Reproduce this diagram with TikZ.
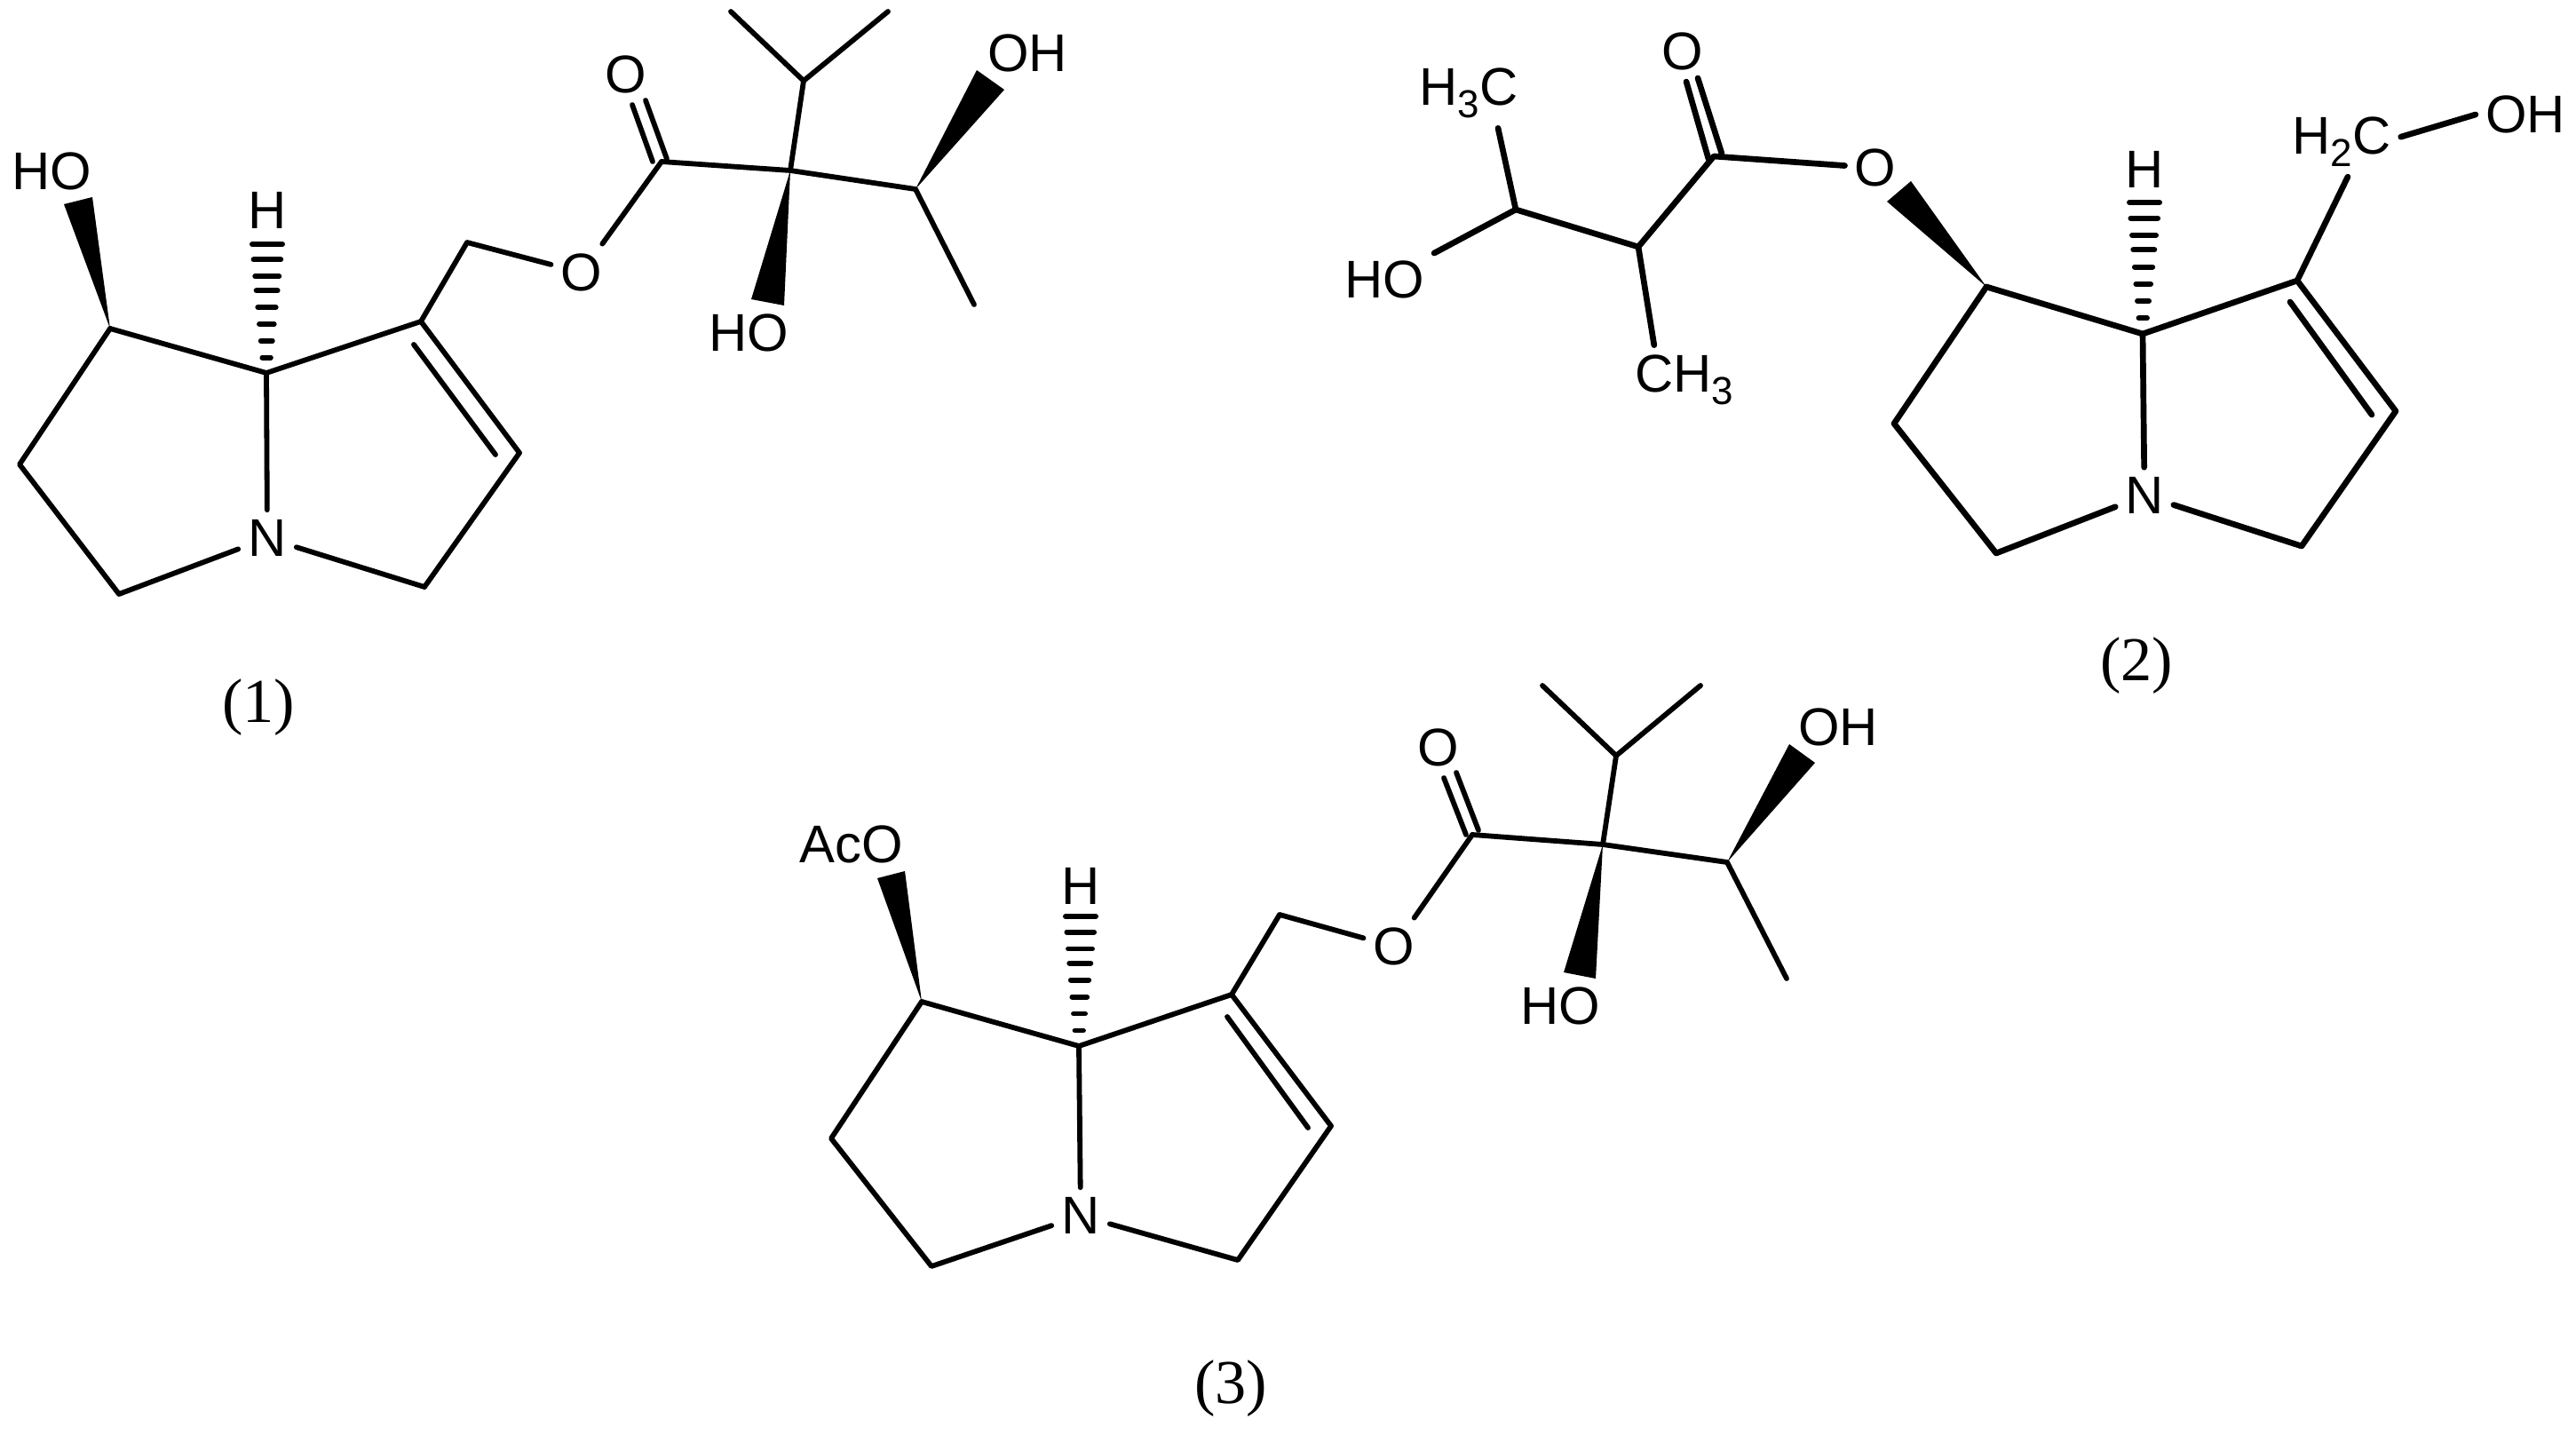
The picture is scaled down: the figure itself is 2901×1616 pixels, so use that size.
\documentclass[tikz,border=0pt]{standalone}
\usepackage{fontspec}
\setmainfont{Liberation Sans}
\newfontfamily\capfont{Liberation Serif}
\usetikzlibrary{calc}

\tikzset{
  bond/.style={line width=1.65pt, line join=round, line cap=round},
  atom/.style={inner sep=3pt, font=\fontsize{17}{19}\selectfont},
  capt/.style={inner sep=0pt, font=\capfont\fontsize{20}{22}\selectfont},
  hashstripe/.style={line width=1.7pt, line cap=round}
}

\newcommand{\chemsub}[1]{\raisebox{-4pt}{\fontsize{12.5}{14}\selectfont #1}}

% the two five-membered rings and hashed H
\newcommand{\ringbonds}{
  \draw[bond] (c7) -- (c6) -- (c5) -- (n);
  \draw[bond] (n) -- (c3) -- (c2) -- (c1) -- (c7a) -- (c7);
  \draw[bond] (c7a) -- (n);
  \draw[bond] (c1i) -- (c2i);
  \foreach \t [evaluate=\t as \hw using 3+14*\t] in {0.12,0.25,0.38,0.51,0.64,0.75,0.88,1}
    \draw[hashstripe] ($(c7a)!\t!(htop)$) +(-\hw,0) -- +(\hw,0);
}

% side chain of (1) and (3)
\newcommand{\esterchain}{
  \draw[bond] (c1) -- (ch2) -- (oe);
  \draw[bond] (oe) -- (cco);
  \draw[bond] (cco) -- (cq) -- (choh) -- (me);
  \draw[bond] (me1) -- (cip) -- (me2);
  \draw[bond] (cip) -- (cq);
  \draw[bond] (ca1) -- (ca2);
  \draw[bond] (cb1) -- (cb2);
  \fill (cq) -- (wq1) -- (wq2) -- cycle;
  \fill (choh) -- (wc1) -- (wc2) -- cycle;
}

\begin{document}
\begin{tikzpicture}[x=0.01cm,y=-0.01cm]
  \useasboundingbox (0,0) rectangle (2901,1616);

  % (1)
  \begin{scope}[name prefix=a-]
    \foreach \n/\p in {c7/{124,370},c7a/{300,420},c1/{474,362},c2/{585,510},c3/{478,661},
      c5/{134,669},c6/{22,523},c1i/{466,388},c2i/{558,512},htop/{301,275},
      ch2/{526,273},cco/{745,182},cq/{890,192},cip/{905,91},me1/{823,13},me2/{1000,13},
      choh/{1031,213},me/{1097,343},ca1/{727,113},ca2/{751,179},cb1/{712,118},cb2/{735,182},
      wq1/{846,337},wq2/{883,344},wc1/{1100,79},wc2/{1131,101},wo1/{72,230},wo2/{104,222}}
      \coordinate (\n) at (\p);
    \node[atom] (n) at (301,606) {N};
    \node[atom] (oe) at (655,307) {O};
    \node[atom] (ok) at (705,84) {O};
    \node[atom] (hq) at (843,375) {HO};
    \node[atom] (hc) at (1157,60) {OH};
    \node[atom] (ho) at (58,193) {HO};
    \node[atom] (h) at (301,237) {H};
    \node[capt] (lbl) at (291,797) {(1)};
    \ringbonds
    \esterchain
    \fill (c7) -- (wo1) -- (wo2) -- cycle;
  \end{scope}

  % (2)
  \begin{scope}[name prefix=b-, bond/.append style={line width=1.9pt}]
    \foreach \n/\p in {c7/{2237,323},c7a/{2413,376},c1/{2587,316},c2/{2698,463},c3/{2592,615},
      c5/{2248,623},c6/{2133,477},c1i/{2579,340},c2i/{2671,467},htop/{2415,228},
      cco/{1930,176},ch/{1845,278},choh/{1707,236},ca1/{1912,88},ca2/{1939,173},
      cb1/{1899,92},cb2/{1924,179},wo1/{2152,204},wo2/{2125,227}}
      \coordinate (\n) at (\p);
    \node[atom] (n) at (2415,558) {N};
    \node[atom] (oe) at (2112,189) {O};
    \node[atom] (ok) at (1895,58) {O};
    \node[atom] (h) at (2415,191) {H};
    \node[atom] (ch2) at (2637,160) {H\chemsub{2}C};
    \node[atom] (oh) at (2844,129) {OH};
    \node[atom] (me1) at (1654,105) {H\chemsub{3}C};
    \node[atom] (me2) at (1897,428) {CH\chemsub{3}};
    \node[atom] (ho) at (1559,315) {HO};
    \node[capt] (lbl) at (2406,750) {(2)};
    \ringbonds
    \draw[bond] (c1) -- (ch2.-80);
    \draw[bond] (ch2.5) -- (oh.west);
    \draw[bond] (oe) -- (cco) -- (ch) -- (choh) -- (me1.-50);
    \draw[bond] (ch) -- (me2.131);
    \draw[bond] (choh) -- (ho);
    \draw[bond] (ca1) -- (ca2);
    \draw[bond] (cb1) -- (cb2);
    \fill (c7) -- (wo1) -- (wo2) -- cycle;
  \end{scope}

  % (3)
  \begin{scope}[name prefix=c-]
    \foreach \n/\p in {c7/{1038,1128},c7a/{1215,1178},c1/{1387,1120},c2/{1499,1268},c3/{1394,1419},
      c5/{1049,1426},c6/{936,1282},c1i/{1382,1145},c2i/{1473,1270},htop/{1217,1032},
      ch2/{1441,1030},cco/{1658,940},cq/{1805,951},cip/{1820,851},me1/{1737,772},me2/{1915,772},
      choh/{1945,971},me/{2012,1102},ca1/{1640,870},ca2/{1665,935},cb1/{1626,876},cb2/{1651,940},
      wq1/{1761,1095},wq2/{1797,1102},wc1/{2015,838},wc2/{2044,859},wo1/{988,989},wo2/{1019,981}}
      \coordinate (\n) at (\p);
    \node[atom] (n) at (1217,1369) {N};
    \node[atom] (oe) at (1570,1066) {O};
    \node[atom] (ok) at (1620,842) {O};
    \node[atom] (hq) at (1757,1133) {HO};
    \node[atom] (hc) at (2070,819) {OH};
    \node[atom] (ho) at (959,951) {AcO};
    \node[atom] (h) at (1217,998) {H};
    \node[capt] (lbl) at (1386,1564) {(3)};
    \ringbonds
    \esterchain
    \fill (c7) -- (wo1) -- (wo2) -- cycle;
  \end{scope}
\end{tikzpicture}
\end{document}
